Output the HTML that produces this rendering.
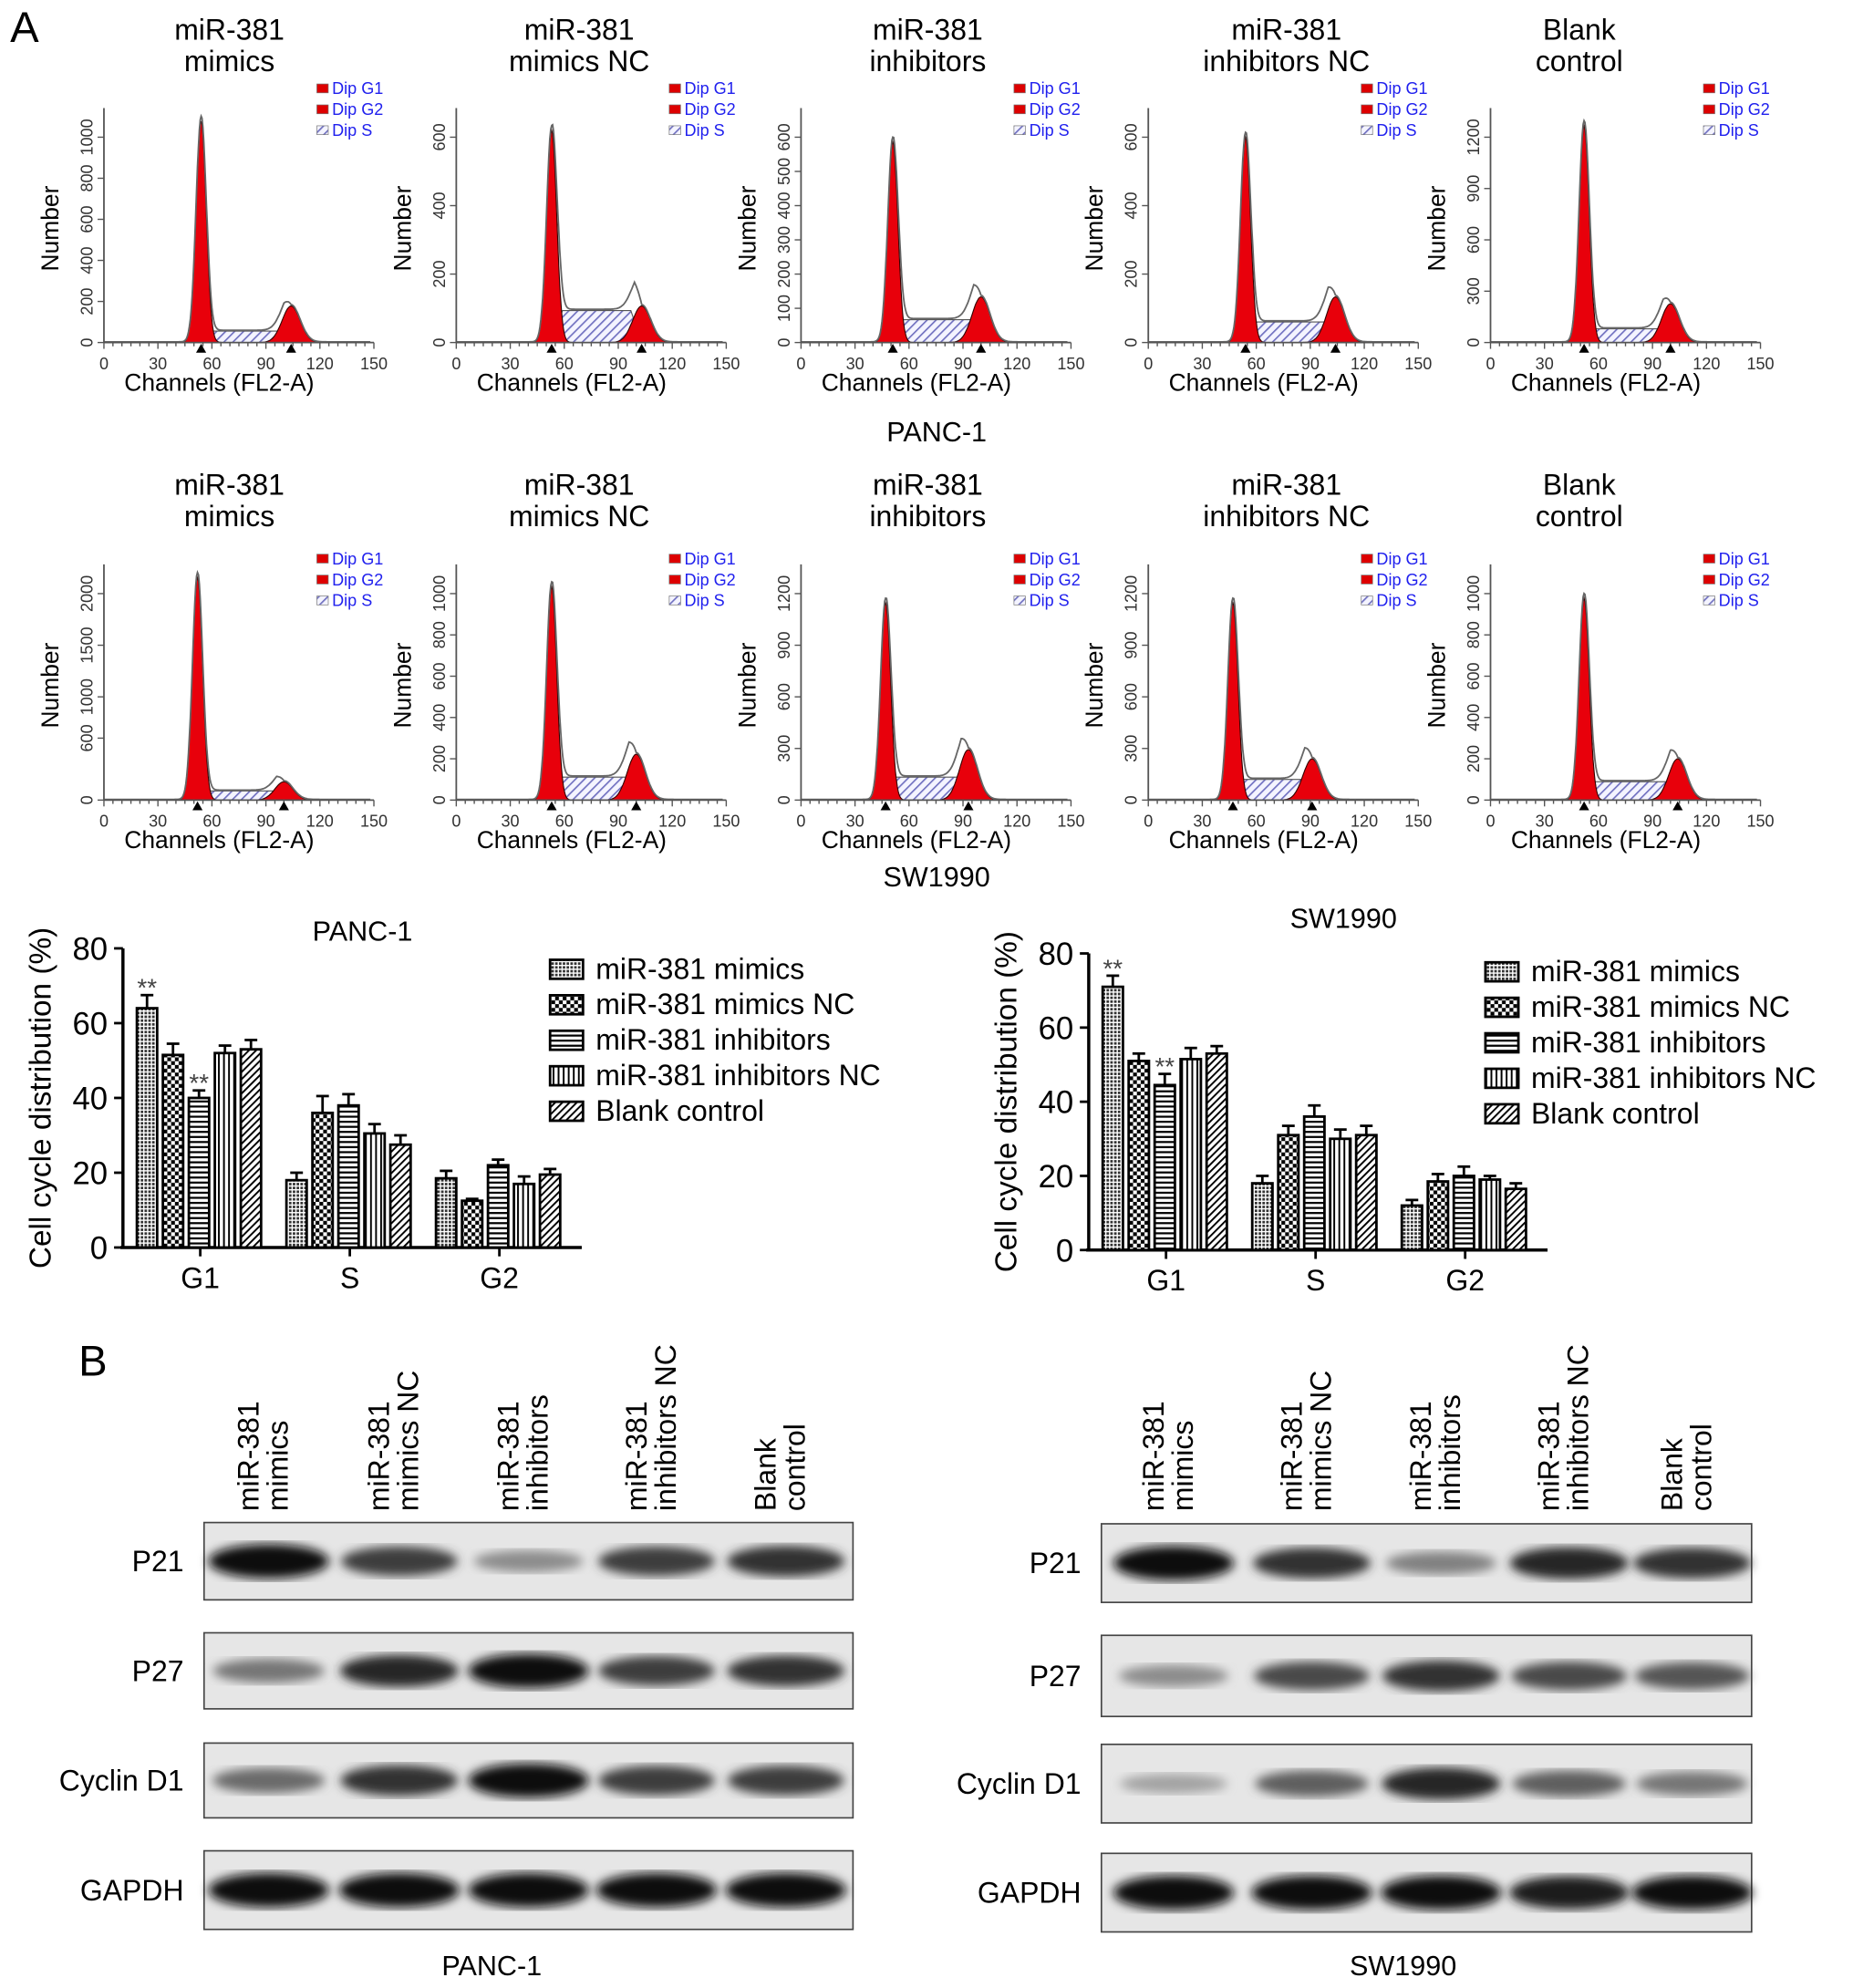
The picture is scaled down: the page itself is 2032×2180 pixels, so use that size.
<!DOCTYPE html>
<html><head><meta charset="utf-8">
<style>
html,body{margin:0;padding:0;background:#fff;}
svg{display:block;font-family:"Liberation Sans",Arial,sans-serif;}
</style></head>
<body>
<svg id="fig" width="2032" height="2180" viewBox="0 0 1462 1568" xmlns="http://www.w3.org/2000/svg">
<defs>
<pattern id="pDots" width="3" height="3" patternUnits="userSpaceOnUse"><rect width="3" height="3" fill="#fff"/><rect width="2" height="2" fill="#333"/></pattern>
<pattern id="pCheck" width="6" height="6" patternUnits="userSpaceOnUse"><rect width="6" height="6" fill="#fff"/><rect width="3" height="3" fill="#000"/><rect x="3" y="3" width="3" height="3" fill="#000"/></pattern>
<pattern id="pH" width="4" height="4" patternUnits="userSpaceOnUse"><rect width="4" height="4" fill="#fff"/><rect width="4" height="1.6" fill="#000"/></pattern>
<pattern id="pV" width="4" height="4" patternUnits="userSpaceOnUse"><rect width="4" height="4" fill="#fff"/><rect width="1.4" height="4" fill="#000"/></pattern>
<pattern id="pDiag" width="4" height="4" patternUnits="userSpaceOnUse" patternTransform="rotate(45)"><rect width="4" height="4" fill="#fff"/><rect width="1.4" height="4" fill="#000"/></pattern>
<pattern id="pS" width="5" height="5" patternUnits="userSpaceOnUse" patternTransform="rotate(45)"><rect width="5" height="5" fill="#f4f4ff"/><rect width="1.2" height="5" fill="#7070c0"/></pattern>
<filter id="blur"><feGaussianBlur stdDeviation="4"/></filter>
</defs>
<g id="root"></g>
</svg>
<script>
// ---------- data ----------
const phases = ["G1","S","G2"];
const groups = ["miR-381 mimics","miR-381 mimics NC","miR-381 inhibitors","miR-381 inhibitors NC","Blank control"];
const pancG1 = [64,51.5,40,52,53];
const pancS  = [18,36,38,30.5,27.5];
const pancG2 = [18.5,12.5,22,17,19.5];
const pancG1e = [3.5,3,2,2,2.5];
const pancSe  = [2,4.5,3,2.5,2.5];
const pancG2e = [2,0.5,1.5,2,1.5];
const swG1 = [71,51,44.5,51.5,53];
const swS  = [18,31,36,30,31];
const swG2 = [12,18.5,20,19,16.5];
const swG1e = [3,2,3,3,2];
const swSe  = [2,2.5,3,2.5,2.5];
const swG2e = [1.5,2,2.5,1,1.5];
const yTicks = [0,20,40,60,80];
const flowTitles = [["miR-381","mimics"],["miR-381","mimics NC"],["miR-381","inhibitors"],["miR-381","inhibitors NC"],["Blank","control"]];
const flowTicks1 = [[0,200,400,600,800,1000],[0,200,400,600],[0,100,200,300,400,500,600],[0,200,400,600],[0,300,600,900,1200]];
const flowTicks2 = [[0,600,1000,1500,2000],[0,200,400,600,800,1000],[0,300,600,900,1200],[0,300,600,900,1200],[0,200,400,600,800,1000]];
const g1Peak1 = [0.97,0.93,0.88,0.90,0.95];
const g2Peak1 = [0.16,0.16,0.20,0.20,0.17];
const sLev1   = [0.05,0.14,0.10,0.09,0.06];
const g1Ch1   = [54,53,51,54,52];
const g2Ch1   = [104,103,100,104,100];
const g1Peak2 = [0.97,0.93,0.86,0.86,0.88];
const g2Peak2 = [0.08,0.20,0.22,0.18,0.18];
const sLev2   = [0.04,0.10,0.10,0.09,0.08];
const g1Ch2   = [52,53,47,47,52];
const g2Ch2   = [100,100,93,91,104];
const pancBands = {P21:[0.95,0.75,0.4,0.75,0.8],P27:[0.5,0.85,0.95,0.75,0.8],"Cyclin D1":[0.55,0.8,0.95,0.75,0.75],GAPDH:[0.95,0.95,0.95,0.95,0.95]};
const swBands = {P21:[0.95,0.8,0.45,0.85,0.8],P27:[0.4,0.7,0.8,0.7,0.65],"Cyclin D1":[0.3,0.6,0.85,0.6,0.5],GAPDH:[0.95,0.95,0.95,0.9,0.95]};

// ---------- helpers ----------
const NS="http://www.w3.org/2000/svg";
const root=document.getElementById('root');
function el(tag,attrs,parent,text){const e=document.createElementNS(NS,tag);for(const k in attrs)e.setAttribute(k,attrs[k]);if(text!==undefined)e.textContent=text;(parent||root).appendChild(e);return e;}

let t=el('text',{x:8,y:33,'font-size':34},root,'A');


t=el('text',{x:62,y:1085,'font-size':34},root,'B');



// ---------- flow histograms ----------
const flowX=[82,360,632,906,1176];
const titleX=[181,457,732,1015,1246];
function flowPanel(i,row){
  const x0=flowX[i], base=row===0?270:631, top=row===0?90:450, W=213, H=base-top;
  const ticks=row===0?flowTicks1[i]:flowTicks2[i];
  const g1p=(row===0?g1Peak1:g1Peak2)[i], g2p=(row===0?g2Peak1:g2Peak2)[i], sl=(row===0?sLev1:sLev2)[i];
  const c1=(row===0?g1Ch1:g1Ch2)[i], c2=(row===0?g2Ch1:g2Ch2)[i];
  const g=el('g',{},root);
  
  
  const tt=row===0?22:381;
  const cx=x0+100, tx=titleX[i];
  let a=el('text',{x:tx,y:tt+9,'font-size':23,'text-anchor':'middle'},g,flowTitles[i][0]);
  
  a=el('text',{x:tx,y:tt+34,'font-size':23,'text-anchor':'middle'},g,flowTitles[i][1]);
  
  const X=c=>x0+c/150*W;
  const maxT=ticks[ticks.length-1];
  const Y=v=>base-v*H;
  const gauss=(c,mu,sd)=>Math.exp(-0.5*((c-mu)/sd)**2);
  let pg1="",pg2="",ps="",pt="";
  const sdev1=2.8, sdev2=5;
  for(let c=35;c<=75;c+=0.5){pg1+=(pg1?"L":"M")+X(c).toFixed(1)+","+Y(g1p*gauss(c,c1,sdev1)).toFixed(1);}
  for(let c=c2-18;c<=c2+18;c+=0.5){pg2+=(pg2?"L":"M")+X(c).toFixed(1)+","+Y(g2p*gauss(c,c2,sdev2)).toFixed(1);}
  ps="M"+X(c1)+","+base+" L"+X(c1+6)+","+Y(sl)+" L"+X(c2-6)+","+Y(sl)+" L"+X(c2)+","+base+"Z";
  for(let c=0;c<=148;c+=0.5){
    let v=g1p*gauss(c,c1,sdev1)+g2p*gauss(c,c2,sdev2);
    if(c>c1&&c<c2)v+=sl*Math.min(1,(c-c1)/4,(c2-c)/4);
    pt+=(pt?"L":"M")+X(c).toFixed(1)+","+Y(v*1.02+0.003).toFixed(1);
  }
  a=el('path',{d:ps,fill:'url(#pS)',stroke:'#555','stroke-width':0.8},g);
  
  a=el('path',{d:pg1+"Z",fill:'#e8000b',stroke:'#300','stroke-width':0.8},g);
  
  a=el('path',{d:pg2+"Z",fill:'#e8000b',stroke:'#300','stroke-width':0.8},g);
  
  a=el('path',{d:pt,fill:'none',stroke:'#666','stroke-width':1.3},g);
  
  el('line',{x1:x0,y1:base,x2:x0+W,y2:base,stroke:'#555','stroke-width':1.3},g);
  el('line',{x1:x0,y1:top-5,x2:x0,y2:base,stroke:'#555','stroke-width':1.3},g);
  for(let c=0;c<=150;c+=5){el('line',{x1:X(c),y1:base,x2:X(c),y2:base+(c%30===0?5:3),stroke:'#555'},g);}
  for(let c=0;c<=150;c+=30){a=el('text',{x:X(c),y:base+21,'font-size':13,'text-anchor':'middle',fill:'#333'},g,String(c));
    }
  ticks.forEach(v=>{const yy=base-(v/maxT)*H*0.9;el('line',{x1:x0-5,y1:yy,x2:x0,y2:yy,stroke:'#555'},g);
    a=el('text',{x:x0-9,y:yy,'font-size':13,'text-anchor':'middle',fill:'#333',transform:`rotate(-90 ${x0-9} ${yy})`},g,String(v));
    });
  a=el('text',{x:cx-9,y:base+38,'font-size':19,'text-anchor':'middle'},g,'Channels (FL2-A)');
  
  a=el('text',{x:x0-36,y:(top+base)/2,'font-size':19,'text-anchor':'middle',transform:`rotate(-90 ${x0-36} ${(top+base)/2})`},g,'Number');
  
  [c1,c2].forEach(c=>el('path',{d:`M${X(c)-4},${base+8}L${X(c)+4},${base+8}L${X(c)},${base+1}Z`,fill:'#000'},g));
  const lx=x0+168, ly=row===0?66:437;
  ["Dip G1","Dip G2","Dip S"].forEach((s,k)=>{
    el('rect',{x:lx,y:ly+k*16.5,width:9,height:7,fill:k<2?'#d00':'url(#pS)',stroke:'#777','stroke-width':0.5},g);
    a=el('text',{x:lx+12,y:ly+k*16.5+8,'font-size':13,fill:'#2020ee'},g,s);
    
  });
}
for(let i=0;i<5;i++){flowPanel(i,0);flowPanel(i,1);}
t=el('text',{x:739,y:348,'font-size':22,'text-anchor':'middle'},root,'PANC-1');

t=el('text',{x:739,y:699,'font-size':22,'text-anchor':'middle'},root,'SW1990');


// ---------- bar charts ----------
const fills=['url(#pDots)','url(#pCheck)','url(#pH)','url(#pV)','url(#pDiag)'];
function barChart(o){
  const g=el('g',{},root);
  
  
  const yS=v=>o.y0-(v/80)*(o.y0-o.y80);
  let a=el('text',{x:o.tx,y:o.ty,'font-size':22,'text-anchor':'middle'},g,o.title);
  
  el('line',{x1:o.ax,y1:o.y80,x2:o.ax,y2:o.y0,stroke:'#000','stroke-width':2.5},g);
  el('line',{x1:o.ax-2,y1:o.y0,x2:o.ax+362,y2:o.y0,stroke:'#000','stroke-width':2.5},g);
  yTicks.forEach(v=>{el('line',{x1:o.ax-7,y1:yS(v),x2:o.ax,y2:yS(v),stroke:'#000','stroke-width':2},g);
    a=el('text',{x:o.ax-12,y:yS(v)+9,'font-size':25,'text-anchor':'end'},g,String(v));
    });
  const yc=(o.y0+o.y80)/2;
  a=el('text',{x:o.ax-57,y:yc,'font-size':24,'text-anchor':'middle',transform:`rotate(-90 ${o.ax-57} ${yc})`},g,'Cell cycle distribution (%)');
  
  const vals=[o.G1,o.S,o.G2], errs=[o.G1e,o.Se,o.G2e];
  phases.forEach((p,pi)=>{
    const gc=o.ax+61+pi*118;
    el('line',{x1:gc,y1:o.y0,x2:gc,y2:o.y0+7,stroke:'#000','stroke-width':2},g);
    a=el('text',{x:gc,y:o.y0+32,'font-size':23,'text-anchor':'middle'},g,p);
    
    groups.forEach((gr,k)=>{
      const bx=gc-50+k*20.5, v=vals[pi][k], e=errs[pi][k];
      const r=el('rect',{x:bx,y:yS(v),width:16,height:o.y0-yS(v),fill:fills[k],stroke:'#000','stroke-width':2},g);
      
      
      el('line',{x1:bx+8,y1:yS(v),x2:bx+8,y2:yS(v+e),stroke:'#000','stroke-width':2},g);
      el('line',{x1:bx+3,y1:yS(v+e),x2:bx+13,y2:yS(v+e),stroke:'#000','stroke-width':2},g);
      if(pi===0&&o.stars.includes(k)){a=el('text',{x:bx+8,y:yS(v+e)+1,'font-size':20,'text-anchor':'middle',fill:'#444'},g,'**');
        }
    });
  });
  groups.forEach((gr,k)=>{
    const ly=o.ly+k*28;
    el('rect',{x:o.lx,y:ly-14,width:26,height:15,fill:fills[k],stroke:'#000','stroke-width':2},g);
    a=el('text',{x:o.lx+36,y:ly+1,'font-size':23},g,gr);
    
  });
}
barChart({name:'panc1-bar-chart',title:'PANC-1',tx:286,ty:742,ax:97,y0:984,y80:748,G1:pancG1,S:pancS,G2:pancG2,G1e:pancG1e,Se:pancSe,G2e:pancG2e,stars:[0,2],lx:434,ly:771});
barChart({name:'sw1990-bar-chart',title:'SW1990',tx:1060,ty:732,ax:859,y0:986,y80:752,G1:swG1,S:swS,G2:swG2,G1e:swG1e,Se:swSe,G2e:swG2e,stars:[0,2],lx:1172,ly:773});

// ---------- western blots ----------
function blot(o){
  const g=el('g',{},root);
  
  
  const labs=[["miR-381","mimics"],["miR-381","mimics NC"],["miR-381","inhibitors"],["miR-381","inhibitors NC"],["Blank","control"]];
  o.lanes.forEach((lx,k)=>{
    const yb=1192;
    let a=el('text',{x:lx-8,y:yb,'font-size':23,transform:`rotate(-90 ${lx-8} ${yb})`},g,labs[k][0]);
    
    a=el('text',{x:lx+15,y:yb,'font-size':23,transform:`rotate(-90 ${lx+15} ${yb})`},g,labs[k][1]);
    
  });
  const names=Object.keys(o.bands);
  names.forEach((nm,r)=>{
    const y=o.rows[r], h=o.h[r];
    let b=el('rect',{x:o.x,y:y,width:o.w,height:h,fill:'#e6e6e6',stroke:'#444','stroke-width':1.2},g);
    
    
    o.bands[nm].forEach((v,k)=>{
      const sh=Math.round(230-v*225);
      el('ellipse',{cx:o.lanes[k],cy:y+h/2,rx:40+v*8,ry:5+v*9,fill:`rgb(${sh},${sh},${sh})`,filter:'url(#blur)'},g);
    });
    let a=el('text',{x:o.x-16,y:y+h/2+8,'font-size':23,'text-anchor':'end'},g,nm);
    
  });
  let a=el('text',{x:o.lx,y:1558,'font-size':22,'text-anchor':'middle'},g,o.title);
  
}
blot({name:'panc1-western-blot',title:'PANC-1',lx:388,x:161,w:512,rows:[1201,1288,1375,1460],h:[61,60,59,62],lanes:[212,315,417,518,620],bands:pancBands});
blot({name:'sw1990-western-blot',title:'SW1990',lx:1107,x:869,w:513,rows:[1202,1290,1376,1462],h:[62,64,62,62],lanes:[926,1035,1137,1238,1335],bands:swBands});
</script>
</body></html>
